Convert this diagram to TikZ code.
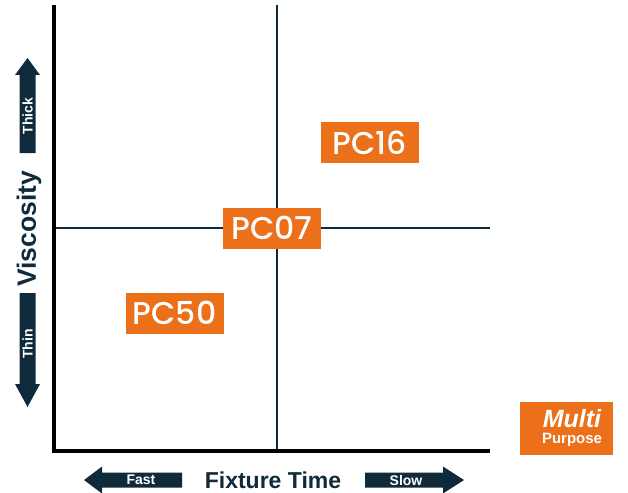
\documentclass[tikz,border=0pt]{standalone}
\usepackage{fontspec}
\setmainfont{Liberation Sans}
\newfontfamily\pcfont{Poppins Medium}
\definecolor{navy}{HTML}{0F2A3A}
\definecolor{orng}{HTML}{EC7019}
\begin{document}
\begin{tikzpicture}[x=1pt,y=-1pt,
  pcbox/.style={fill=orng,text=white,font=\pcfont\fontsize{31.5}{31.5}\selectfont,inner sep=0pt,minimum width=98pt,minimum height=41pt},
  axislabel/.style={text=navy},
  arrowtext/.style={text=white,font=\bfseries\fontsize{14}{14}\selectfont}]
\useasboundingbox (0,0) rectangle (628,492);
% crosshair
\coordinate (vt) at (277,5);
\coordinate (vb) at (277,451);
\coordinate (hl) at (55,228);
\coordinate (hr) at (490,228);
\draw[navy,line width=2pt] (vt) -- (vb);
\draw[navy,line width=2pt] (hl) -- (hr);
% axes
\coordinate (ytop) at (54,5);
\coordinate (org) at (54,451);
\coordinate (xend) at (490,451);
\draw[black,line width=4pt] (ytop) -- (org) -- (xend);
% labels
\node[pcbox] (pc16) at (370,142.5) {PC16};
\node[pcbox] (pc07) at (272,228) {PC07};
\node[pcbox] (pc50) at (174.5,313) {PC50};
% multi purpose
\node[fill=orng,minimum width=93pt,minimum height=53pt,inner sep=0pt] (mp) at (566.5,428.5) {};
\node[text=white,font=\bfseries\itshape\fontsize{25}{25}\selectfont,anchor=base,inner sep=0pt] (mt) at (572,427) {Multi};
\node[text=white,font=\bfseries\fontsize{15}{15}\selectfont,anchor=base,inner sep=0pt] (pp) at (572,443.5) {Purpose};
% axis titles
\node[axislabel,font=\bfseries\fontsize{23}{23}\selectfont] (ft) at (273,480) {Fixture Time};
\node[axislabel,font=\bfseries\fontsize{26.5}{26.5}\selectfont,rotate=90] (vs) at (29,229) {Viscosity};
% horizontal arrows
\fill[navy] (84,480) -- (102,466.5) -- (102,472.5) -- (182,472.5) -- (182,487.5) -- (102,487.5) -- (102,493.5) -- cycle;
\node[arrowtext] (fast) at (141,480) {Fast};
\fill[navy] (464,480) -- (443,466.5) -- (443,472.5) -- (365,472.5) -- (365,487.5) -- (443,487.5) -- (443,493.5) -- cycle;
\node[arrowtext] (slow) at (406,480) {Slow};
% vertical arrows
\fill[navy] (27.5,58) -- (40,75) -- (35.5,75) -- (35.5,153) -- (19.5,153) -- (19.5,75) -- (15,75) -- cycle;
\node[arrowtext,rotate=90] (thick) at (27.5,116) {Thick};
\fill[navy] (27.5,407) -- (40,384) -- (35.5,384) -- (35.5,293) -- (19.5,293) -- (19.5,384) -- (15,384) -- cycle;
\node[arrowtext,rotate=90] (thin) at (27.5,344) {Thin};
\end{tikzpicture}
\end{document}
